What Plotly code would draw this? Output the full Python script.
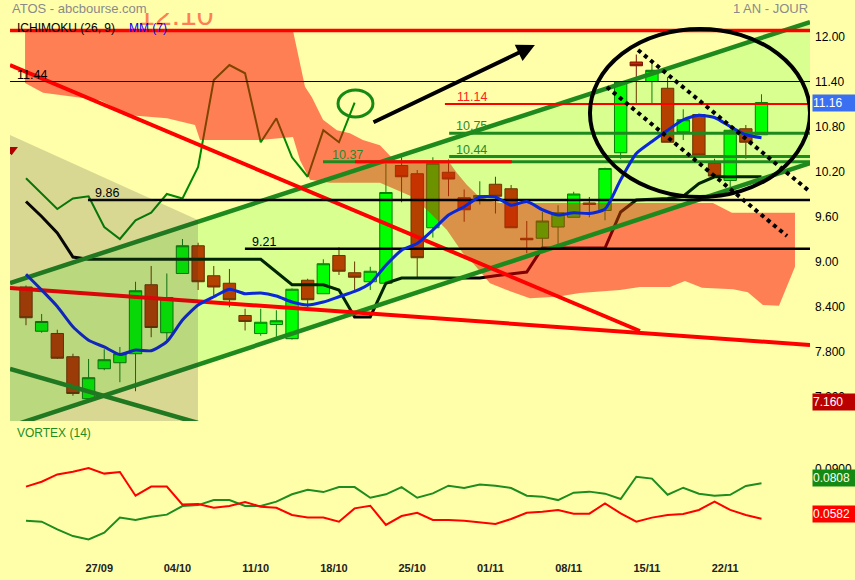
import plotly.graph_objects as go

# ---------------- data ----------------
dates = ["20/09","21/09","22/09","23/09","24/09","27/09","28/09","29/09","30/09","01/10",
         "04/10","05/10","06/10","07/10","08/10","11/10","12/10","13/10","14/10","15/10",
         "18/10","19/10","20/10","21/10","22/10","25/10","26/10","27/10","28/10","29/10",
         "01/11","02/11","03/11","04/11","05/11","08/11","09/11","10/11","11/11","12/11",
         "15/11","16/11","17/11","18/11","19/11","22/11","23/11","24/11"]
tick_labels = ["27/09","04/10","11/10","18/10","25/10","01/11","08/11","15/11","22/11"]

price_ticks = [12.0, 11.4, 10.8, 10.2, 9.6, 9.0, 8.4, 7.8, 7.2]
price_tick_text = ["12.00","11.40","10.80","10.20","9.60","9.00","8.400","7.800","7.200"]

open_ = [8.70,8.11,8.08,7.77,7.21,7.61,7.69,7.81,8.73,8.09,
         8.88,9.25,8.85,8.75,8.32,8.08,8.20,8.01,8.79,8.61,
         9.12,8.89,8.77,8.75,10.32,10.21,9.49,10.23,9.89,9.89,
         10.07,10.01,9.35,9.35,9.50,9.63,9.82,9.72,10.49,11.70,
         11.44,11.35,10.77,11.00,10.35,10.12,10.81,10.73]
high = [8.72,8.34,8.13,7.81,7.74,7.87,7.90,8.77,8.98,8.88,
        9.34,9.29,8.98,8.94,8.41,8.41,8.39,8.68,8.81,9.07,
        9.23,9.04,8.97,10.35,10.43,10.26,10.43,10.40,10.00,10.11,
        10.17,10.06,9.58,9.70,9.79,9.97,9.90,10.29,11.44,11.80,
        11.73,11.50,11.07,11.01,10.41,10.80,10.86,11.27]
low = [8.19,8.09,7.74,7.25,7.21,7.59,7.43,7.31,8.03,7.99,
       8.88,8.66,8.58,8.43,8.12,8.05,8.03,8.00,8.43,8.61,
       8.86,8.66,8.66,8.73,9.83,8.83,9.36,9.91,9.57,9.80,
       9.68,9.49,9.15,9.21,9.26,9.63,9.63,9.59,10.41,11.13,
       11.15,10.63,10.66,10.45,10.17,10.03,10.41,10.73]
close = [8.29,8.24,7.75,7.28,7.49,7.73,7.81,8.65,8.16,8.56,
         9.25,8.77,8.70,8.53,8.24,8.23,8.25,8.67,8.53,9.01,
         8.91,8.83,8.91,9.96,10.17,9.09,10.35,10.14,9.73,9.92,
         9.91,9.49,9.33,9.58,9.69,9.94,9.80,10.28,11.43,11.65,
         11.59,10.63,10.93,10.46,10.18,10.79,10.63,11.16]

mm7 = [8.87,8.66,8.44,8.17,7.99,7.90,7.80,7.86,7.85,7.97,
       8.26,8.46,8.57,8.67,8.61,8.62,8.58,8.50,8.46,8.50,
       8.57,8.64,8.75,8.99,9.19,9.28,9.46,9.66,9.77,9.90,
       9.90,9.79,9.84,9.73,9.66,9.69,9.68,9.74,10.13,10.48,
       10.64,10.79,10.93,10.99,10.96,10.84,10.73,10.69]

kijun = [9.84,9.64,9.42,9.10,9.07,9.07,9.07,9.07,9.07,9.07,
         9.07,9.07,9.07,9.07,9.07,9.07,8.90,8.73,8.73,8.73,
         8.66,8.30,8.30,8.75,8.82,8.82,8.82,8.82,8.82,8.82,
         8.85,8.87,8.90,9.22,9.22,9.22,9.22,9.22,9.70,9.86,
         9.87,9.88,9.91,10.08,10.17,10.17,10.17,10.17]

chikou = [10.15,9.94,9.74,9.88,9.91,9.50,9.34,9.59,9.69,9.94,
          9.88,10.30,11.46,11.66,11.55,10.63,10.95,10.43,10.17,10.79,
          10.63,11.16]

# Ichimoku cloud outline (position in sessions, price)
cloud_top_x = [-0.06,17.06,17.83,18.27,18.98,19.87,20.70,21.53,22.62,23.58,
               27.09,27.54,28.18,28.82,29.46,30.29,43.90,45.11,49.14]
cloud_top = [12.12,12.12,11.37,11.23,10.93,10.79,10.75,10.66,10.59,10.38,
             10.35,10.22,10.06,9.93,9.86,9.82,9.82,9.69,9.69]
cloud_bot_x = [-0.06,1.09,4.73,6.65,9.01,10.80,11.12,14.95,17.06,17.51,
               18.15,19.42,22.62,24.73,25.81,26.90,27.92,28.56,29.65,30.73,
               32.20,33.93,35.40,37.96,39.23,41.15,42.11,43.20,45.18,46.13,
               47.09,48.12,49.14]
cloud_bot = [11.42,11.29,11.19,10.99,10.95,10.86,10.66,10.66,10.70,10.39,
             10.13,10.09,10.09,9.90,9.69,9.46,9.15,9.02,8.75,8.66,
             8.55,8.57,8.62,8.66,8.70,8.70,8.78,8.69,8.67,8.63,
             8.46,8.45,8.97]

vi_plus = [0.0569,0.0563,0.0514,0.0471,0.0450,0.0493,0.0589,0.0574,0.0595,0.0608,
           0.0663,0.0669,0.0701,0.0701,0.0663,0.0663,0.0691,0.0738,0.0767,0.0752,
           0.0784,0.0784,0.0716,0.0738,0.0784,0.0716,0.0744,0.0793,0.0778,0.0801,
           0.0793,0.0778,0.0729,0.0723,0.0701,0.0748,0.0755,0.0742,0.0708,0.0850,
           0.0838,0.0735,0.0780,0.0742,0.0729,0.0735,0.0791,0.0808]
vi_minus = [0.0787,0.0818,0.0865,0.0882,0.0906,0.0870,0.0880,0.0729,0.0787,0.0787,
            0.0672,0.0676,0.0652,0.0663,0.0689,0.0659,0.0652,0.0606,0.0589,0.0589,
            0.0563,0.0648,0.0665,0.0542,0.0599,0.0620,0.0574,0.0574,0.0569,0.0559,
            0.0548,0.0580,0.0620,0.0627,0.0638,0.0614,0.0614,0.0680,0.0616,0.0563,
            0.0589,0.0606,0.0612,0.0638,0.0691,0.0638,0.0606,0.0582]

# drawn levels: value, first session, label
level_values = [12.12, 11.44, 11.14, 10.75, 10.44, 10.37, 9.86, 9.21]
level_starts = [-1.02, -1.02, 26.77, 27.04, 27.04, 18.98, 3.96, 13.99]
level_labels = ["", "11.44", "11.14", "10.75", "10.44", "10.37", "9.86", "9.21"]
level_label_x = [0, -0.70, 27.41, 27.35, 27.35, 19.42, 4.28, 14.31]
level_colors = ["#FF0000", "#000000", "#FF0000", "#1E8A1E", "#1E8A1E", "#1E8A1E", "#000000", "#000000"]
level_widths = [3.5, 1, 2, 3, 3, 3, 2.5, 2.5]
level_label_colors = ["#FF0000", "#000000", "#FF2020", "#2A8A2A", "#2A8A2A", "#2A8A2A", "#000000", "#000000"]
red_segment = ((21.02, 31.05), 10.37)

# trend lines ((x0, y0), (x1, y1)) in (session, price)
channel_upper = ((-1.022, 8.753), (50.10, 12.233))
channel_lower = ((-1.022, 6.839), (50.10, 10.353))
green_down = ((-1.022, 7.607), (10.99, 6.887))
red_down = ((-1.022, 11.66), (39.23, 8.113))
red_long = ((-1.022, 8.687), (50.10, 7.927))
dotted_a = ((39.11, 11.86), (49.97, 9.993))
dotted_b = ((37.12, 11.367), (48.63, 9.38))
grey_zone = ([-1.022, 10.99, 10.99, -1.022], [10.727, 9.593, 6.913, 6.913])

XMIN, XMAX = -1.022, 50.10
PMIN, PMAX = 6.913, 12.527
VMIN, VMAX = 0.0331, 0.1187

xs = list(range(len(dates)))
tick_pos = [dates.index(t) for t in tick_labels]

def px(x):
    return (x - 10) / 800.0

def py(y):
    return 1 - y / 558.0

FONT = "Liberation Sans, Arial, sans-serif"

fig = go.Figure()

# big faded price label at the top (partly hidden)
fig.add_trace(go.Scatter(x=[9.58], y=[12.30], mode="text", text=["12.10"],
                         textfont=dict(size=30, color="#FF7F55", family=FONT),
                         textposition="middle center", cliponaxis=False,
                         hoverinfo="skip", showlegend=False))

fig.add_trace(go.Candlestick(
    x=xs, open=open_, high=high, low=low, close=close,
    increasing=dict(line=dict(color="#0A6A0A", width=1), fillcolor="#00FF00"),
    decreasing=dict(line=dict(color="#7A1500", width=1), fillcolor="#D42000"),
    whiskerwidth=0, hoverinfo="skip", showlegend=False))

fig.add_trace(go.Scatter(x=xs, y=kijun, mode="lines",
                         line=dict(color="#000000", width=3),
                         hoverinfo="skip", showlegend=False))
fig.add_trace(go.Scatter(x=xs[:len(chikou)], y=chikou, mode="lines",
                         line=dict(color="#008800", width=2),
                         hoverinfo="skip", showlegend=False))

# cloud (translucent, above candles)
fig.add_trace(go.Scatter(x=cloud_top_x + cloud_bot_x[::-1], y=cloud_top + cloud_bot[::-1],
                         fill="toself", fillcolor="rgba(255,0,0,0.5)", mode="lines",
                         line=dict(width=0), hoverinfo="skip", showlegend=False))

# channel fill
fig.add_trace(go.Scatter(x=[channel_upper[0][0], channel_upper[1][0], channel_lower[1][0], channel_lower[0][0]],
                         y=[channel_upper[0][1], channel_upper[1][1], channel_lower[1][1], channel_lower[0][1]],
                         fill="toself", fillcolor="rgba(0,255,0,0.15)", mode="lines",
                         line=dict(width=0), hoverinfo="skip", showlegend=False))

def seg(p, color, width, dash=None):
    fig.add_trace(go.Scatter(x=[p[0][0], p[1][0]], y=[p[0][1], p[1][1]], mode="lines",
                             line=dict(color=color, width=width, dash=dash),
                             hoverinfo="skip", showlegend=False))

for ln in (channel_upper, channel_lower, green_down):
    seg(ln, "#1E8A1E", 4.5)
for ln in (red_down, red_long):
    seg(ln, "#FF0000", 4)

for v, s, c, w in zip(level_values, level_starts, level_colors, level_widths):
    seg(((s, v), (XMAX, v)), c, w)
seg(((red_segment[0][0], red_segment[1]), (red_segment[0][1], red_segment[1])), "#FF0000", 3)

fig.add_trace(go.Scatter(x=xs, y=mm7, mode="lines",
                         line=dict(color="#0A28D8", width=3, shape="spline", smoothing=0.6),
                         hoverinfo="skip", showlegend=False))

seg(dotted_a, "#000000", 4, "dot")
seg(dotted_b, "#000000", 4, "dot")

fig.add_trace(go.Scatter(x=grey_zone[0], y=grey_zone[1], fill="toself",
                         fillcolor="rgba(45,40,45,0.18)", mode="lines",
                         line=dict(width=0), hoverinfo="skip", showlegend=False))

fig.add_trace(go.Scatter(x=[-0.92], y=[10.53], mode="markers",
                         marker=dict(symbol="triangle-down", size=11, color="#B00000"),
                         hoverinfo="skip", showlegend=False))

# vortex
fig.add_trace(go.Scatter(x=xs, y=vi_plus, yaxis="y2", mode="lines",
                         line=dict(color="#1E8C1E", width=2), hoverinfo="skip", showlegend=False))
fig.add_trace(go.Scatter(x=xs, y=vi_minus, yaxis="y2", mode="lines",
                         line=dict(color="#FF0000", width=2), hoverinfo="skip", showlegend=False))

shapes = [
    dict(type="circle", xref="x", yref="y", x0=36.04, x1=50.10, y0=9.90, y1=12.14,
         line=dict(color="#000000", width=4)),
    dict(type="circle", xref="x", yref="y", x0=19.94, x1=22.17, y0=10.967, y1=11.327,
         line=dict(color="#148A14", width=3)),
    dict(type="rect", xref="paper", yref="paper", x0=-0.02, x1=1.0, y0=py(13), y1=1.0,
         fillcolor="#FFFFAA", line=dict(width=0), layer="above"),
]

ann = []
for t, lx, v, c in zip(level_labels, level_label_x, level_values, level_label_colors):
    if t:
        ann.append(dict(x=lx, y=v, xref="x", yref="y", text=t, showarrow=False,
                        xanchor="left", yanchor="middle", yshift=7,
                        font=dict(size=12.5, color=c, family=FONT)))
ann.append(dict(x=32.52, y=11.927, ax=22.11, ay=10.887, xref="x", yref="y",
                axref="x", ayref="y", showarrow=True, arrowhead=2, arrowsize=0.9,
                arrowwidth=4, arrowcolor="#000000", text=""))
ann += [
    dict(x=0, y=py(8), xref="paper", yref="paper", text="ATOS - abcbourse.com", showarrow=False,
         xanchor="left", yanchor="middle", font=dict(size=13, color="#8A8A8A", family=FONT)),
    dict(x=1.0, y=py(8), xref="paper", yref="paper", text="1 AN - JOUR", showarrow=False,
         xanchor="right", yanchor="middle", font=dict(size=13, color="#8A8A8A", family=FONT)),
    dict(x=px(15), y=py(28), xref="paper", yref="paper", text="ICHIMOKU (26, 9)", showarrow=False,
         xanchor="left", yanchor="middle", font=dict(size=12, color="#000000", family=FONT)),
    dict(x=px(127), y=py(28), xref="paper", yref="paper", text="MM (7)", showarrow=False,
         xanchor="left", yanchor="middle", font=dict(size=12, color="#0000FF", family=FONT)),
    dict(x=px(15), y=py(433), xref="paper", yref="paper", text="VORTEX (14)", showarrow=False,
         xanchor="left", yanchor="middle", font=dict(size=12, color="#1E8C1E", family=FONT)),
]
for txt, yv, yr, bg, ys in [("11.16", close[-1], "y", "#3A6FF2", 0),
                             ("7.160", 7.16, "y", "#BB0000", 0),
                             ("0.0808", vi_plus[-1], "y2", "#148A14", 5),
                             ("0.0582", vi_minus[-1], "y2", "#FF0000", 5)]:
    ann.append(dict(x=px(812), y=yv, xref="paper", yref=yr, text=txt, showarrow=False,
                    xanchor="left", yanchor="middle", yshift=ys, bgcolor=bg,
                    width=44, height=16, align="left", borderpad=0,
                    font=dict(size=12, color="#FFFFFF", family=FONT)))

fig.update_layout(
    width=855, height=580,
    margin=dict(l=10, r=45, t=0, b=22),
    paper_bgcolor="#FFFFAA", plot_bgcolor="#FFFFAA",
    showlegend=False, hovermode=False,
    boxgap=0.21, boxgroupgap=0,
    font=dict(family=FONT),
    xaxis=dict(range=[XMIN, XMAX], domain=[0, 1], anchor="y2", showgrid=False, zeroline=False,
               showline=False, ticks="", tickvals=tick_pos, ticktext=tick_labels,
               tickfont=dict(size=11, color="#222222", family=FONT, weight="bold"),
               ticklabelshift=-5, ticklabelstandoff=2, rangeslider=dict(visible=False)),
    yaxis=dict(domain=[1 - 421 / 558, 1], range=[PMIN, PMAX], anchor="x", side="right",
               showgrid=False, zeroline=False, showline=False, ticks="",
               tickvals=price_ticks, ticktext=price_tick_text, ticklabelshift=-3,
               ticklabelstandoff=4, tickfont=dict(size=12, color="#000000", family=FONT)),
    yaxis2=dict(domain=[0, 1 - 424 / 558], range=[VMIN, VMAX], anchor="x", side="right",
                showgrid=False, zeroline=False, showline=False, ticks="",
                tickvals=[0.09], ticktext=["0.0900"], ticklabelstandoff=4,
                tickfont=dict(size=12, color="#000000", family=FONT)),
    shapes=shapes, annotations=ann,
)

fig.write_html("out.html", config={"displayModeBar": False, "staticPlot": True},
               post_script="document.body.style.margin='0';document.body.style.overflow='hidden';")
